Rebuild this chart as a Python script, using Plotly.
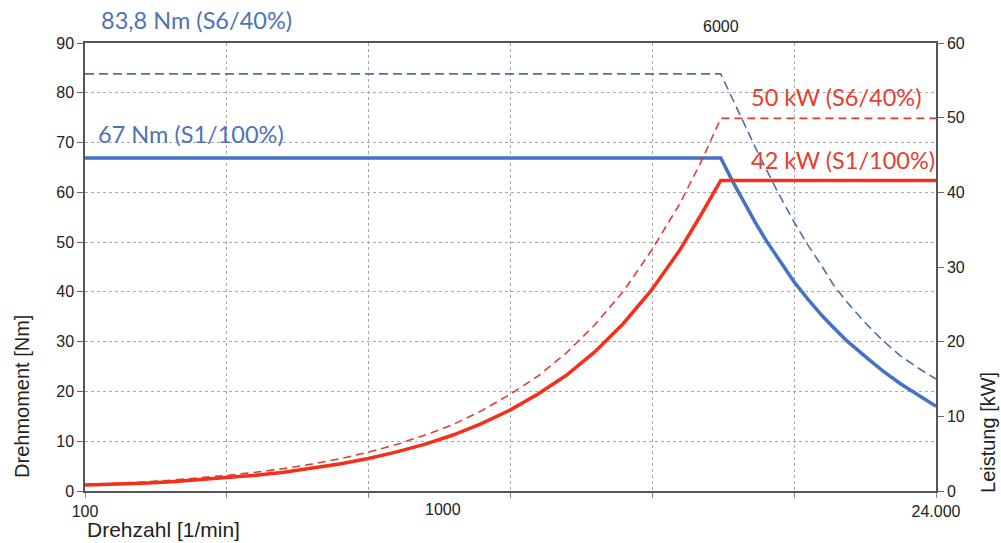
import math
import plotly.graph_objects as go

# ---------------- data ----------------
# Torque S1 (67 Nm, continuous) and S6 (83.8 Nm, 40 %) vs speed [1/min]
n_torque = [100, 6000, 6500, 7000, 7500, 8060, 8700, 9625, 10500, 11500,
            12380, 13500, 15350, 17000, 19040, 21500, 24000]
torque_s1 = [66.9, 66.9, 62.0, 57.7, 53.9, 50.2, 46.6, 42.0, 38.6, 35.3,
             32.9, 30.2, 26.8, 24.2, 21.6, 19.1, 17.0]
torque_s6 = [83.8, 83.8, 78.5, 73.5, 69.0, 64.5, 59.8, 54.0, 49.5, 45.2,
             41.5, 38.0, 33.5, 30.3, 27.2, 24.6, 22.5]

# Power S1 (42 kW) and S6 (50 kW) vs speed [1/min]
n_power = [100, 120, 145, 175, 210, 250, 300, 360, 430, 520, 620, 740, 890,
           1070, 1280, 1540, 1850, 2220, 2660, 3200, 3840, 4600, 5300, 6000,
           24000]
power_s1 = [0.8, 0.9, 1.05, 1.25, 1.5, 1.75, 2.1, 2.5, 3.0, 3.65, 4.35, 5.2,
            6.25, 7.5, 9.0, 10.8, 13.0, 15.5, 18.6, 22.4, 26.9, 32.2, 37.1,
            41.6, 41.6]
power_s6 = [0.85, 1.0, 1.2, 1.45, 1.75, 2.1, 2.5, 3.0, 3.6, 4.35, 5.2, 6.2,
            7.45, 8.9, 10.7, 12.9, 15.4, 18.5, 22.2, 26.7, 32.2, 38.4, 44.2,
            49.9, 49.9]

n_min, n_max, n_knee = 100, 24000, 6000
x_tick_text = {100: "100", 24000: "24.000"}
x_mid_label = 1000

# ---------------- figure ----------------
BLUE = "#4472C4"
BLUE_D = "#4D6EA8"
RED = "#F5301A"
RED_D = "#DB3F33"
BLUE_T = "#4F73B6"
RED_T = "#E5402F"
AXIS_FONT = "Liberation Sans"
LABEL_FONT = "Lato"
TXT = "#222222"

fig = go.Figure()
fig.add_trace(go.Scatter(x=n_torque, y=torque_s6, mode="lines",
                         line=dict(color=BLUE_D, width=1.6, dash="9px,5px"),
                         yaxis="y", showlegend=False))
fig.add_trace(go.Scatter(x=n_power, y=power_s6, mode="lines",
                         line=dict(color=RED_D, width=1.6, dash="8px,5px"),
                         yaxis="y2", showlegend=False))
fig.add_trace(go.Scatter(x=n_torque, y=torque_s1, mode="lines",
                         line=dict(color=BLUE, width=3.5),
                         yaxis="y", showlegend=False))
fig.add_trace(go.Scatter(x=n_power, y=power_s1, mode="lines",
                         line=dict(color=RED, width=3.5),
                         yaxis="y2", showlegend=False))

# vertical grid: six equal log divisions between 100 and 24000
ratio = n_max / n_min
grid_vals = [n_min * ratio ** (k / 6) for k in range(7)]
grid_text = [x_tick_text.get(round(v), "") for v in grid_vals]

grid_col = "#a8a8a8"
frame_col = "#555555"

fig.update_layout(
    width=1001, height=543,
    margin=dict(l=85, r=65, t=43, b=52),
    paper_bgcolor="white", plot_bgcolor="white",
    xaxis=dict(type="log", range=[math.log10(n_min), math.log10(n_max)],
               tickmode="array", tickvals=grid_vals, ticktext=grid_text,
               showgrid=True, gridcolor=grid_col, gridwidth=1, griddash="dot",
               showline=True, linecolor=frame_col, linewidth=1.5, mirror=True,
               ticks="outside", ticklen=5, tickcolor="#888",
               tickfont=dict(family=AXIS_FONT, size=16, color=TXT),
               zeroline=False),
    yaxis=dict(range=[0, 90], tickmode="linear", tick0=0, dtick=10,
               showgrid=True, gridcolor=grid_col, gridwidth=1, griddash="dot",
               showline=True, linecolor=frame_col, linewidth=1.5,
               ticks="outside", ticklen=6, tickcolor="#666",
               tickfont=dict(family=AXIS_FONT, size=16, color=TXT),
               zeroline=False),
    yaxis2=dict(range=[0, 60], tickmode="linear", tick0=0, dtick=10,
                overlaying="y", side="right", showgrid=False,
                showline=True, linecolor=frame_col, linewidth=1.5,
                ticks="outside", ticklen=6, tickcolor="#666",
                tickfont=dict(family=AXIS_FONT, size=16, color=TXT),
                zeroline=False),
)

# 6000 rpm marker line
fig.add_shape(type="line", xref="x", yref="paper",
              x0=math.log10(n_knee), x1=math.log10(n_knee), y0=0, y1=1,
              line=dict(color="black", width=1.6), layer="above")

anns = [
    dict(text="83,8 Nm (S6/40%)", x=0.0176, y=1.051, color=BLUE_T),
    dict(text="67 Nm (S1/100%)", x=0.0141, y=0.797, color=BLUE_T),
    dict(text="50 kW (S6/40%)", x=0.781, y=0.879, color=RED_T),
    dict(text="42 kW (S1/100%)", x=0.781, y=0.739, color=RED_T),
]
for a in anns:
    fig.add_annotation(text=a["text"], xref="paper", yref="paper",
                       x=a["x"], y=a["y"], xanchor="left", yanchor="middle",
                       showarrow=False, borderpad=0,
                       font=dict(family=LABEL_FONT, size=23.5, color=a["color"]))

fig.add_annotation(text=str(n_knee), xref="x", yref="paper",
                   x=math.log10(n_knee), y=1.036, xanchor="center",
                   yanchor="middle", showarrow=False,
                   font=dict(family=AXIS_FONT, size=16, color=TXT))
fig.add_annotation(text=str(x_mid_label), xref="x", yref="paper",
                   x=math.log10(x_mid_label), y=-0.041, xanchor="center",
                   yanchor="middle", showarrow=False,
                   font=dict(family=AXIS_FONT, size=16, color=TXT))
fig.add_annotation(text="Drehzahl [1/min]", xref="paper", yref="paper",
                   x=0.0, y=-0.085, xanchor="left", yanchor="middle",
                   showarrow=False,
                   font=dict(family=AXIS_FONT, size=21, color=TXT))
fig.add_annotation(text="Drehmoment [Nm]", xref="paper", yref="paper",
                   x=-0.074, y=0.21, xanchor="center", yanchor="middle",
                   textangle=-90, showarrow=False,
                   font=dict(family=AXIS_FONT, size=20, color=TXT))
fig.add_annotation(text="Leistung [kW]", xref="paper", yref="paper",
                   x=1.0611, y=0.1317, xanchor="center", yanchor="middle",
                   textangle=-90, showarrow=False, borderpad=0,
                   font=dict(family=AXIS_FONT, size=20, color=TXT))

fig.write_html(
    "out.html",
    config={"displayModeBar": False},
    post_script="document.body.style.margin='0';"
                "document.body.style.padding='0';"
                "document.body.style.overflow='hidden';",
)
